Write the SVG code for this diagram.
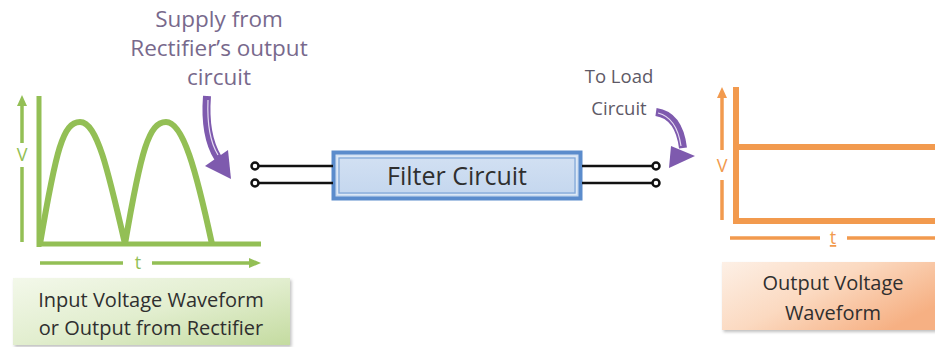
<svg xmlns="http://www.w3.org/2000/svg" width="935" height="347" viewBox="0 0 935 347">
<style>
text{font-family:"Open Sans",Lato,"Liberation Sans",sans-serif;}
.lbl{fill:#2f2f2f;font-size:20px;text-anchor:middle;}
.note{fill:#78698c;font-size:22.5px;text-anchor:middle;}
.note2{fill:#5e5966;font-size:18.5px;text-anchor:middle;}
.g{stroke:#93bf55;fill:none;stroke-linecap:butt;}
.o{stroke:#f29a4e;fill:none;}
.wire{stroke:#111;stroke-width:2.5;fill:none;}
.term{stroke:#111;stroke-width:2.5;fill:#fff;}
.axl{font-size:18px;text-anchor:middle;}
</style>
<defs>
<linearGradient id="gg" x1="0" y1="0" x2="1" y2="1">
<stop offset="0" stop-color="#f3f8ea"/>
<stop offset="0.5" stop-color="#e2eecf"/>
<stop offset="1" stop-color="#c4dba0"/>
</linearGradient>
<linearGradient id="og" x1="0" y1="0" x2="1" y2="0.6">
<stop offset="0" stop-color="#fdf0e6"/>
<stop offset="0.5" stop-color="#fbd9c0"/>
<stop offset="1" stop-color="#f6b083"/>
</linearGradient>
<linearGradient id="bg" x1="0" y1="0" x2="0" y2="1">
<stop offset="0" stop-color="#d3e1f3"/>
<stop offset="1" stop-color="#c3d6ee"/>
</linearGradient>
<filter id="sh" x="-5%" y="-10%" width="112%" height="130%">
<feDropShadow dx="1.5" dy="2" stdDeviation="1.5" flood-color="#000" flood-opacity="0.25"/>
</filter>
</defs>

<g id="input-waveform">
<line class="g" x1="39" y1="96" x2="39" y2="247" stroke-width="5"/>
<line class="g" x1="37" y1="244" x2="261" y2="244" stroke-width="5"/>
<path class="g" stroke-width="6" d="M40,244 C56,150 63,122 80,122 C97,122 108,170 125,244 C141,150 149,122 166,122 C183,122 196,170 212,244"/>
<line class="g" x1="22" y1="104" x2="22" y2="143" stroke-width="3.5"/>
<polygon points="22,95 17,106 27,106" fill="#93bf55"/>
<text class="axl" x="22" y="161" fill="#93bf55">V</text>
<line class="g" x1="22" y1="167" x2="22" y2="242" stroke-width="3.5"/>
<line class="g" x1="40" y1="263" x2="123" y2="263" stroke-width="3.5"/>
<text class="axl" x="138" y="269" fill="#93bf55">t</text>
<line class="g" x1="152" y1="263" x2="250" y2="263" stroke-width="3.5"/>
<polygon points="261,263 249,258 249,268" fill="#93bf55"/>
</g>

<g id="input-label">
<rect x="13" y="278" width="277" height="67" fill="url(#gg)" filter="url(#sh)"/>
<text class="lbl" x="151" y="307">Input Voltage Waveform</text>
<text class="lbl" x="151" y="335">or Output from Rectifier</text>
</g>

<g id="supply-note">
<text class="note" x="219" y="27">Supply from</text>
<text class="note" x="219" y="56">Rectifier’s output</text>
<text class="note" x="219" y="85">circuit</text>
</g>

<g id="to-load-note">
<text class="note2" x="619" y="83">To Load</text>
<text class="note2" x="619" y="115">Circuit</text>
</g>

<g id="filter-circuit">
<rect x="333.5" y="152.5" width="247" height="46" fill="url(#bg)" stroke="#5b8ccc" stroke-width="4"/>
<rect x="337.5" y="156.5" width="239" height="38" fill="none" stroke="#dce8f6" stroke-width="1.2"/>
<rect x="339" y="158" width="236" height="35" fill="none" stroke="#7ea6d8" stroke-width="1.2"/>
<text x="457" y="185" fill="#2f2f2f" font-size="25" text-anchor="middle">Filter Circuit</text>
</g>

<g id="output-waveform">
<line class="o" x1="736" y1="87" x2="736" y2="224" stroke-width="6"/>
<line class="o" x1="733" y1="221" x2="940" y2="221" stroke-width="6"/>
<line class="o" x1="736" y1="147" x2="940" y2="147" stroke-width="6"/>
<line class="o" x1="722" y1="96" x2="722" y2="150" stroke-width="3.5"/>
<polygon points="722,87 717,98 727,98" fill="#f29a4e"/>
<text class="axl" x="722" y="172" fill="#f29a4e">V</text>
<line class="o" x1="722" y1="180" x2="722" y2="220" stroke-width="3.5"/>
<line class="o" x1="730" y1="238" x2="820" y2="238" stroke-width="3.5"/>
<text class="axl" x="833" y="244" fill="#f29a4e" text-decoration="underline">t</text>
<line class="o" x1="847" y1="238" x2="940" y2="238" stroke-width="3.5"/>
</g>

<g id="output-label">
<rect x="722" y="262" width="220" height="68" fill="url(#og)" filter="url(#sh)"/>
<text class="lbl" x="833" y="290">Output Voltage</text>
<text class="lbl" x="833" y="320">Waveform</text>
</g>

<g id="connectors">
<line class="wire" x1="258" y1="166" x2="333" y2="166"/>
<line class="wire" x1="258" y1="183" x2="333" y2="183"/>
<circle class="term" cx="255" cy="166" r="3.5"/>
<circle class="term" cx="255" cy="183" r="3.5"/>
<line class="wire" x1="582" y1="166" x2="652" y2="166"/>
<line class="wire" x1="582" y1="183" x2="652" y2="183"/>
<circle class="term" cx="656" cy="166" r="3.5"/>
<circle class="term" cx="656" cy="183" r="3.5"/>
<path d="M207,96 C205,122 208,142 218,158" stroke="#7e5aae" stroke-width="8" fill="none"/>
<path d="M208,100 C207,124 210,142 218,155" stroke="#e6dcf2" stroke-width="1.2" fill="none"/>
<polygon points="205,166 228,150 231,179" fill="#7e5aae"/>
<path d="M656,112 C670,114 680,124 683,148" stroke="#7e5aae" stroke-width="8" fill="none"/>
<path d="M658,113 C670,116 678,126 681,146" stroke="#e6dcf2" stroke-width="1.2" fill="none"/>
<polygon points="671,146 695,156 669,168" fill="#7e5aae"/>
</g>
</svg>
